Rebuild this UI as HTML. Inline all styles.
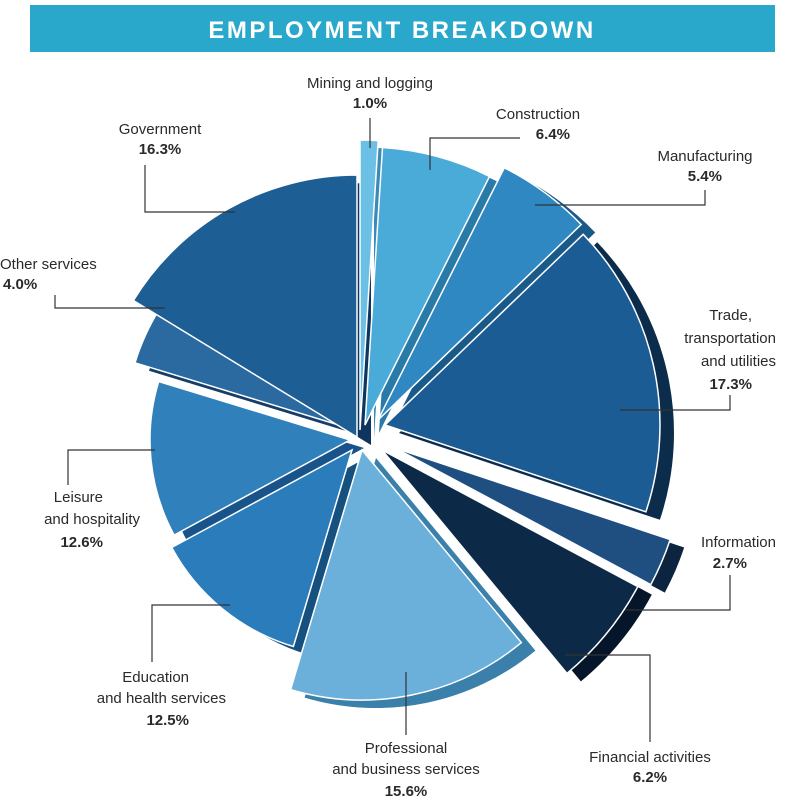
<!DOCTYPE html>
<html><head><meta charset="utf-8"><style>
html,body{margin:0;padding:0;background:#fff;}
svg{display:block;}
text{font-family:"Liberation Sans",sans-serif;font-size:15px;fill:#2a2a2a;}
.b{font-weight:bold;}
</style></head><body>
<svg id="s" width="800" height="810" viewBox="0 0 800 810" xmlns="http://www.w3.org/2000/svg">
<rect x="0" y="0" width="800" height="810" fill="#fff"/>
<rect x="30" y="5" width="745" height="47" fill="#2aa8cc"/>
<text x="402" y="38" text-anchor="middle" style="font-size:24px;font-weight:bold;fill:#fff;letter-spacing:2.5px">EMPLOYMENT BREAKDOWN</text>
<g id="pie"></g>
<g stroke="#333" stroke-width="1.2" fill="none">
<polyline points="370,148 370,118"/>
<polyline points="430,170 430,138 520,138"/>
<polyline points="145,165 145,212 235,212"/>
<polyline points="705,190 705,205 535,205"/>
<polyline points="55,295 55,308 165,308"/>
<polyline points="730,395 730,410 620,410"/>
<polyline points="68,485 68,450 155,450"/>
<polyline points="730,575 730,610 625,610"/>
<polyline points="152,662 152,605 230,605"/>
<polyline points="650,742 650,655 565,655"/>
<polyline points="406,735 406,672"/>
</g>
<text x="370" y="88" text-anchor="middle">Mining and logging</text>
<text x="370" y="108" text-anchor="middle" class="b">1.0%</text>
<text x="538" y="119" text-anchor="middle">Construction</text>
<text x="570" y="139" text-anchor="end" class="b">6.4%</text>
<text x="160" y="134" text-anchor="middle">Government</text>
<text x="160" y="154" text-anchor="middle" class="b">16.3%</text>
<text x="705" y="161" text-anchor="middle">Manufacturing</text>
<text x="722" y="181" text-anchor="end" class="b">5.4%</text>
<text x="0" y="269">Other services</text>
<text x="3" y="289" class="b">4.0%</text>
<text x="752" y="320" text-anchor="end">Trade,</text>
<text x="776" y="343" text-anchor="end">transportation</text>
<text x="776" y="366" text-anchor="end">and utilities</text>
<text x="752" y="389" text-anchor="end" class="b">17.3%</text>
<text x="103" y="502" text-anchor="end">Leisure</text>
<text x="140" y="524" text-anchor="end">and hospitality</text>
<text x="103" y="547" text-anchor="end" class="b">12.6%</text>
<text x="776" y="547" text-anchor="end">Information</text>
<text x="747" y="568" text-anchor="end" class="b">2.7%</text>
<text x="189" y="682" text-anchor="end">Education</text>
<text x="226" y="703" text-anchor="end">and health services</text>
<text x="189" y="725" text-anchor="end" class="b">12.5%</text>
<text x="650" y="762" text-anchor="middle">Financial activities</text>
<text x="650" y="782" text-anchor="middle" class="b">6.2%</text>
<text x="406" y="753" text-anchor="middle">Professional</text>
<text x="406" y="774" text-anchor="middle">and business services</text>
<text x="406" y="796" text-anchor="middle" class="b">15.6%</text>
</svg>
<script>
var S=[
[0,3.6,360,430,290,'#6cc0e6','#3a8ab8'],
[3.6,26.6,365,425,278,'#4aaad8','#2a7aa8'],
[26.6,46.1,378,420,282,'#2f88c2','#1a5a88'],
[46.1,108.4,385,425,275,'#1b5c94','#0c2c4c'],
[108.4,118.1,395,448,290,'#1e4f80','#0c2440'],
[118.1,140.4,382,450,290,'#0c2a48','#06162a'],
[140.4,196.6,362,450,250,'#6ab0da','#3a80aa'],
[196.6,241.6,352,450,205,'#2a7cba','#16507e'],
[241.6,287,350,440,200,'#3080bc','#18548a'],
[287,301.4,355,430,230,'#2a6aa0','#163e68'],
[301.4,360,357,437,262,'#1d5e94','#0e3560']];
function p(a,cx,cy,r){a=a*Math.PI/180;return [cx+r*Math.sin(a),cy-r*Math.cos(a)];}
function path(s,dx,dy){var a0=s[0],a1=s[1],cx=s[2]+dx,cy=s[3]+dy,r=s[4];
var q=p(a0,cx,cy,r),e=p(a1,cx,cy,r);
return 'M'+cx+','+cy+' L'+q[0].toFixed(1)+','+q[1].toFixed(1)+' A'+r+','+r+' 0 '+((a1-a0)>180?1:0)+' 1 '+e[0].toFixed(1)+','+e[1].toFixed(1)+' Z';}
var h='';
S.forEach(function(s){h+='<path d="'+path(s,14,8)+'" fill="'+s[6]+'"/>';});
S.forEach(function(s){h+='<path d="'+path(s,0,0)+'" fill="'+s[5]+'" stroke="#fff" stroke-width="1.5"/>';});
document.getElementById('pie').innerHTML=h;
</script>
</body></html>
